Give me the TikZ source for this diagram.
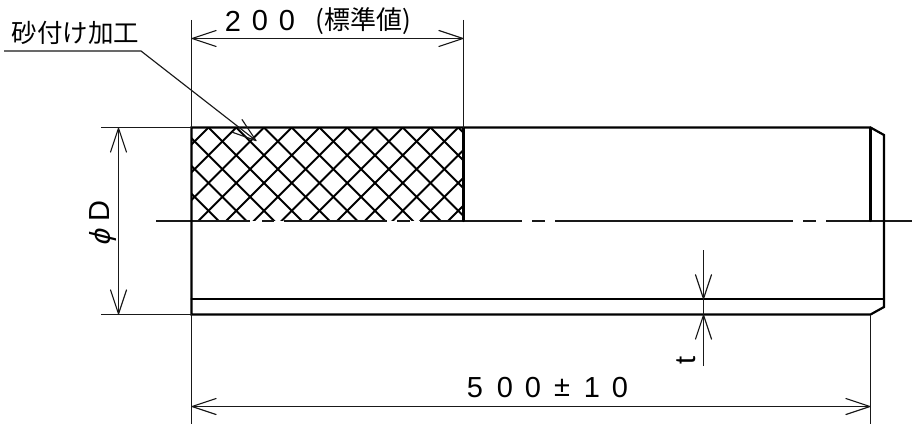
\documentclass[tikz,border=0pt]{standalone}
\usepackage{fontspec}
\setmainfont{Liberation Sans}
\newfontfamily\cjk{Noto Sans CJK JP}
\usetikzlibrary{arrows.meta}
\tikzset{
  thinline/.style={line width=1.15pt,draw=black!90},
  thickline/.style={line width=2.2pt,draw=black,line cap=round},
  hatchline/.style={line width=2.1pt,draw=black},
  openarrow/.style={{Straight Barb[length=24pt,width=16pt,line width=1.15pt,round]}-{Straight Barb[length=24pt,width=16pt,line width=1.15pt,round]}},
  openend/.style={-{Straight Barb[length=24pt,width=16pt,line width=1.15pt,round]}},
  label/.style={inner sep=0pt,font=\fontsize{29pt}{29pt}\selectfont},
}
\begin{document}
\begin{tikzpicture}[x=1pt,y=-1pt]
\useasboundingbox (0,0) rectangle (912,425);
\coordinate (TL) at (191.5,127.5);
\coordinate (TM) at (463.5,127.5);
\coordinate (CM) at (463.5,221);
\coordinate (CL) at (191.5,221);
\coordinate (BL) at (191.5,314.5);
\coordinate (ITL) at (870.5,127.5);
\coordinate (IBL) at (870.5,314.5);
\coordinate (OT) at (884,135);
\coordinate (OB) at (884,307);
\coordinate (SL) at (191.5,299.3);
\coordinate (SR) at (884,299.3);
% hatching
\begin{scope}
\clip (191.5,127.5) rectangle (463.5,220);
\foreach \k in {-5,...,14}{
  \draw[hatchline] ({208.5+27.75*\k},127.5) -- ++(110,110);
  \draw[hatchline] ({208.5+27.75*\k},127.5) -- ++(-110,110);
}
\end{scope}
% centre line
\draw[thinline] (156,221) -- (250,221) (262,221) -- (274,221) (284,221) -- (387,221) (397,221) -- (410,221) (420,221) -- (522,221);
\draw[thinline] (532,221) -- (545,221) (555,221) -- (793,221) (803,221) -- (816,221) (826,221) -- (912,221);
% outline
\draw[thickline] (TL) -- (ITL) -- (OT) -- (OB) -- (IBL) -- (BL) -- cycle;
\draw[thickline] (SL) -- (SR);
\draw[thickline] (ITL) -- (870.5,221);
\draw[thickline] (TM) -- (CM);
% extension lines
\draw[thinline] (191.5,20) -- (TL);
\draw[thinline] (463.5,20) -- (TM);
\draw[thinline] (BL) -- (191.5,424);
\draw[thinline] (IBL) -- (870.5,424);
\draw[thinline] (101,127.5) -- (TL);
\draw[thinline] (101,314.5) -- (BL);
% dimensions
\coordinate (A1) at (191.5,38.5); \coordinate (A2) at (463.5,38.5);
\draw[thinline,openarrow] (A1) -- (A2);
\coordinate (B1) at (118.5,127.5); \coordinate (B2) at (118.5,314.5);
\draw[thinline,openarrow] (B1) -- (B2);
\coordinate (C1) at (191.5,406.5); \coordinate (C2) at (870.5,406.5);
\draw[thinline,openarrow] (C1) -- (C2);
\coordinate (T0) at (703.5,250); \coordinate (T1) at (703.5,299.3);
\coordinate (T2) at (703.5,366); \coordinate (T3) at (703.5,314.5);
\draw[thinline,openend] (T0) -- (T1);
\draw[thinline,openend] (T2) -- (T3);
\draw[thinline] (T1) -- (T3);
% leader
\coordinate (L0) at (4,51); \coordinate (L1) at (141,51); \coordinate (L2) at (256.5,141);
\draw[thinline,openend] (L0) -- (L1) -- (L2);
% text
\node[inner sep=0pt] (title) at (75.5,33) {\cjk\fontsize{25.5pt}{25.5pt}\selectfont 砂付け加工};
\node[label] (d1) at (233,21) {2};
\node[label] (d2) at (260,21) {0};
\node[label] (d3) at (287,21) {0};
\node[inner sep=0pt] (std) at (363,21) {\cjk\fontsize{26pt}{26pt}\selectfont (標準値)};
\node[label,rotate=90] (phiD) at (100,211.5) {D};
\node[label,rotate=90,xslant=0.25] (phi) at (103,237) {ϕ};
\node[label,rotate=90] (tt) at (686,360) {t};
\node[label] (n1) at (475,388) {5};
\node[label] (n2) at (505,388) {0};
\node[label] (n3) at (533,388) {0};
\node[label] (n4) at (562,388) {±};
\node[label] (n5) at (592,388) {1};
\node[label] (n6) at (620,388) {0};
\end{tikzpicture}
\end{document}
